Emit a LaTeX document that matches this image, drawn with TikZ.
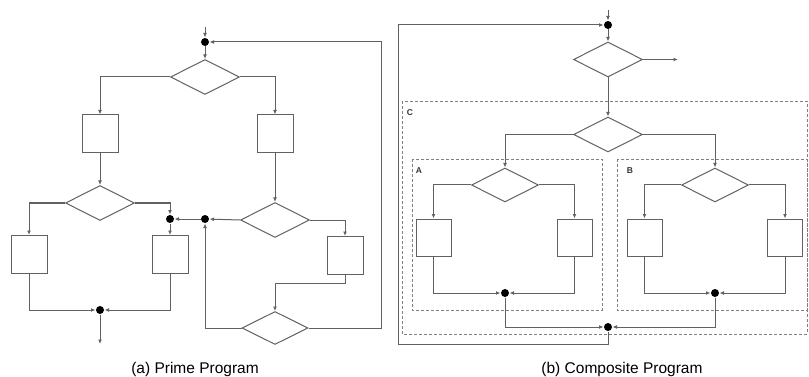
\documentclass[tikz,border=0pt]{standalone}
\usepackage{fontspec}
\setmainfont{Liberation Sans}
\usetikzlibrary{shapes.geometric,arrows.meta}
\begin{document}
\begin{tikzpicture}[x=1pt,y=-1pt,
  line width=1pt, draw=black!62,
  arr/.style={draw=black!62, -{Latex[length=4.5pt,width=3.8pt]}},
  dec/.style={diamond, draw=black!62, inner sep=0pt, minimum width=69pt, minimum height=35pt, aspect=2},
  proc/.style={rectangle, draw=black!62, inner sep=0pt, minimum width=36pt, minimum height=38pt},
  dot/.style={circle, fill=black, inner sep=0pt, minimum size=8pt},
  grp/.style={draw=black!50, line width=0.8pt, dash pattern=on 3pt off 2pt},
  grplab/.style={font=\bfseries\fontsize{8.5}{10}\selectfont, text=black!80, inner sep=0pt},
  captxt/.style={font=\fontsize{15.5}{18}\selectfont, text=black}
]
\useasboundingbox (0,0) rectangle (809,377);

% ---------------- (a) Prime Program ----------------
\coordinate (inA) at (205,27);
\node[dot] (ja) at (205,42) {};
\node[dec] (d1) at (205,77) {};
\node[proc] (b1) at (100,134) {};
\node[proc] (b2) at (275,134) {};
\node[dec] (d2) at (100,203) {};
\node[proc] (b3) at (29,254.5) {};
\node[proc] (b4) at (170,254.5) {};
\node[dot] (j1) at (170,219) {};
\node[dot] (j2) at (205,219) {};
\node[dec] (d3) at (275,220) {};
\node[proc] (b5) at (345,255.5) {};
\coordinate (k1) at (345,283);
\node[dec, minimum width=66pt, minimum height=33pt] (d4) at (275,328) {};
\coordinate (loopTR) at (381,42);
\node[dot] (j3) at (100,310) {};
\coordinate (outA) at (100,344);

\draw[arr] (inA) -- (ja);
\draw[arr] (ja) -- (d1.north);
\draw[arr] (d1.west) -| (b1.north);
\draw[arr] (d1.east) -| (b2.north);
\draw[arr] (b1.south) -- (d2.north);
\draw[arr] (d2.west) -| (b3.north);
\draw[arr] (d2.east) -| (j1);
\draw[arr] (j1) -- (b4.north);
\draw[arr] (j2) -- (j1);
\draw[arr] (b2.south) -- (d3.north);
\draw[arr] (d3.west) -- (j2);
\draw[arr] (d3.east) -| (b5.north);
\draw[arr] (b5.south) -- (k1) -| (d4.north);
\draw[arr] (d4.west) -| (j2);
\draw[arr] (d4.east) -| (loopTR) -- (ja);
\draw[arr] (b3.south) |- (j3);
\draw[arr] (b4.south) |- (j3);
\draw[arr] (j3) -- (outA);

\node[captxt] (capA) at (195,369) {(a) Prime Program};

% ---------------- (b) Composite Program ----------------
\draw[grp] (402,101) rectangle (807,334);
\node[grplab] (labC) at (410,113) {C};
\draw[grp] (412,159) rectangle (602,310);
\node[grplab] (labA) at (419,171) {A};
\draw[grp] (617,159) rectangle (807,310);
\node[grplab] (labB) at (630,171) {B};

\coordinate (inB) at (608,10);
\node[dot] (jb) at (608,25) {};
\node[dec] (d5) at (608,59.5) {};
\coordinate (outB) at (678,59.5);
\node[dec] (d6) at (608,134.5) {};

\node[dec, minimum width=67pt, minimum height=34pt] (dA) at (505,185) {};
\node[proc, minimum width=35pt, minimum height=37pt] (bA1) at (433.5,237.5) {};
\node[proc, minimum width=35pt, minimum height=37pt] (bA2) at (574.5,237.5) {};
\node[dot] (jA) at (505,293) {};

\node[dec, minimum width=67pt, minimum height=34pt] (dB) at (715,185) {};
\node[proc, minimum width=35pt, minimum height=37pt] (bB1) at (644.5,237.5) {};
\node[proc, minimum width=35pt, minimum height=37pt] (bB2) at (785,237.5) {};
\node[dot] (jB) at (715,293) {};

\node[dot] (jC) at (608,327) {};
\coordinate (lb1) at (608,344);
\coordinate (lb2) at (398,344);
\coordinate (lb3) at (398,25);

\draw[arr] (inB) -- (jb);
\draw[arr] (jb) -- (d5.north);
\draw[arr] (d5.east) -- (outB);
\draw[arr] (d5.south) -- (d6.north);
\draw[arr] (d6.west) -| (dA.north);
\draw[arr] (d6.east) -| (dB.north);
\draw[arr] (dA.west) -| (bA1.north);
\draw[arr] (dA.east) -| (bA2.north);
\draw[arr] (bA1.south) |- (jA);
\draw[arr] (bA2.south) |- (jA);
\draw[arr] (dB.west) -| (bB1.north);
\draw[arr] (dB.east) -| (bB2.north);
\draw[arr] (bB1.south) |- (jB);
\draw[arr] (bB2.south) |- (jB);
\draw[arr] (jA) |- (jC);
\draw[arr] (jB) |- (jC);
\draw[arr] (jC) -- (lb1) -- (lb2) -- (lb3) -- (jb);

\node[captxt] (capB) at (622,369) {(b) Composite Program};
\end{tikzpicture}
\end{document}
